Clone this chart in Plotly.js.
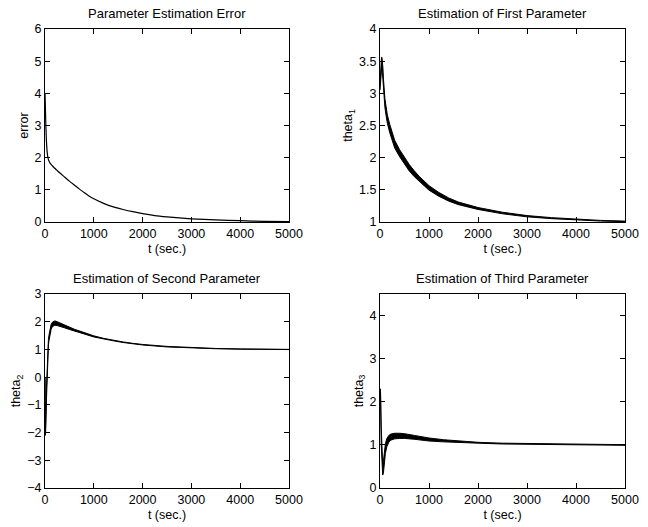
<!DOCTYPE html>
<html>
<head>
<meta charset="utf-8">
<script src="https://cdn.plot.ly/plotly-3.0.1.min.js"></script>
<style>html,body{margin:0;padding:0;background:#fff;}#chart{width:648px;height:527px;}</style>
</head>
<body>
<div id="chart"></div>
<script>
// Parameter estimation error
const tErr = [0, 5, 10, 15, 20, 30, 40, 50, 60, 75, 90, 100, 125, 150, 200, 250, 300, 400, 500, 600, 700, 800, 900, 1000, 1200, 1400, 1600, 1800, 2000, 2250, 2500, 2750, 3000, 3500, 4000, 4500, 5000];
const errVals = [4.0, 3.75, 3.45, 3.15, 2.9, 2.5, 2.25, 2.1, 2.0, 1.92, 1.87, 1.84, 1.79, 1.75, 1.67, 1.60, 1.53, 1.40, 1.27, 1.15, 1.03, 0.92, 0.81, 0.72, 0.58, 0.47, 0.39, 0.32, 0.26, 0.20, 0.16, 0.13, 0.10, 0.065, 0.04, 0.02, 0.01];

// First parameter (oscillation band: upper / lower envelope)
const tTh1 = [0, 10, 20, 30, 40, 50, 60, 70, 80, 100, 125, 150, 200, 250, 300, 400, 500, 600, 700, 800, 1000, 1200, 1400, 1600, 1800, 2000, 2500, 3000, 3500, 4000, 4500, 5000];
const th1Upper = [3.15, 3.38, 3.52, 3.56, 3.56, 3.5, 3.39, 3.23, 3.10, 2.92, 2.79, 2.665, 2.515, 2.38, 2.27, 2.125, 2.005, 1.89, 1.795, 1.71, 1.565, 1.46, 1.375, 1.31, 1.268, 1.225, 1.152, 1.10, 1.068, 1.041, 1.025, 1.014];
const th1Lower = [3.05, 3.22, 3.35, 3.36, 3.36, 3.32, 3.21, 3.07, 2.94, 2.78, 2.65, 2.535, 2.385, 2.26, 2.15, 2.015, 1.895, 1.79, 1.705, 1.63, 1.495, 1.40, 1.325, 1.27, 1.232, 1.195, 1.128, 1.08, 1.052, 1.029, 1.015, 1.006];

// Second parameter
const tTh2 = [0, 5, 10, 15, 20, 30, 40, 50, 60, 70, 80, 100, 125, 150, 175, 200, 250, 300, 400, 500, 600, 700, 800, 1000, 1200, 1400, 1600, 1800, 2000, 2500, 3000, 3500, 4000, 4500, 5000];
const th2Upper = [0, -1.0, -2.0, -1.7, -1.2, -0.4, 0.3, 0.8, 1.1, 1.35, 1.5, 1.75, 1.9, 1.98, 2.02, 2.03, 2.0, 1.96, 1.88, 1.80, 1.73, 1.67, 1.61, 1.49, 1.40, 1.33, 1.27, 1.22, 1.18, 1.11, 1.06, 1.035, 1.018, 1.008, 1.002];
const th2Lower = [0, -1.1, -2.1, -1.9, -1.5, -0.8, -0.1, 0.5, 0.9, 1.15, 1.3, 1.55, 1.72, 1.82, 1.86, 1.87, 1.86, 1.84, 1.78, 1.72, 1.66, 1.61, 1.56, 1.45, 1.37, 1.31, 1.25, 1.20, 1.16, 1.09, 1.05, 1.025, 1.01, 1.0, 0.995];

// Third parameter
const tTh3 = [0, 10, 25, 40, 55, 70, 90, 110, 140, 180, 220, 300, 400, 500, 700, 850, 1000, 1300, 1600, 2000, 2500, 3000, 3500, 4000, 4500, 5000];
const th3Upper = [2.0, 2.3, 1.4, 0.9, 0.55, 0.62, 0.88, 1.03, 1.15, 1.22, 1.25, 1.27, 1.27, 1.26, 1.22, 1.19, 1.16, 1.12, 1.09, 1.06, 1.04, 1.03, 1.02, 1.015, 1.01, 1.005];
const th3Lower = [2.0, 2.2, 1.0, 0.5, 0.3, 0.35, 0.6, 0.8, 0.96, 1.06, 1.11, 1.14, 1.15, 1.15, 1.13, 1.11, 1.09, 1.07, 1.05, 1.04, 1.02, 1.015, 1.01, 1.0, 0.995, 0.99];

const xTicks = [0, 1000, 2000, 3000, 4000, 5000];
const y1Ticks = [0, 1, 2, 3, 4, 5, 6];
const y2Ticks = [1, 1.5, 2, 2.5, 3, 3.5, 4];
const y3Ticks = [-4, -3, -2, -1, 0, 1, 2, 3];
const y3Labels = ['\u22124', '\u22123', '\u22122', '\u22121', '0', '1', '2', '3'];
const y4Ticks = [0, 1, 2, 3, 4];

function band(t, lo, hi, xa, ya) {
  return [
    {x: t, y: lo, xaxis: xa, yaxis: ya, mode: 'lines', line: {color: '#000', width: 1}, hoverinfo: 'skip'},
    {x: t, y: hi, xaxis: xa, yaxis: ya, mode: 'lines', fill: 'tonexty', fillcolor: '#000', line: {color: '#000', width: 1}, hoverinfo: 'skip'}
  ];
}

const data = [
  {x: tErr, y: errVals, xaxis: 'x', yaxis: 'y', mode: 'lines', line: {color: '#000', width: 1.2, shape: 'spline', smoothing: 0.6}}
].concat(band(tTh1, th1Lower, th1Upper, 'x2', 'y2'))
 .concat(band(tTh2, th2Lower, th2Upper, 'x3', 'y3'))
 .concat(band(tTh3, th3Lower, th3Upper, 'x4', 'y4'));

const fam = 'Liberation Sans, Arial, Helvetica, sans-serif';
const font = {family: fam, size: 12.5, color: '#000'};
const tfont = {family: fam, size: 13, color: '#000'};

function xax(domain, anchor) {
  return {domain: domain, anchor: anchor, range: [0, 5000], tickvals: xTicks, ticktext: xTicks.map(String),
    ticks: 'inside', ticklen: 5, tickcolor: '#000', showline: true, mirror: 'ticks', linecolor: '#000', linewidth: 1,
    showgrid: false, zeroline: false, tickfont: font, title: {text: 't (sec.)', font: font, standoff: 4}};
}
function yax(domain, anchor, range, vals, labels, label) {
  return {domain: domain, anchor: anchor, range: range, tickvals: vals, ticktext: labels,
    ticks: 'inside', ticklen: 5, tickcolor: '#000', showline: true, mirror: 'ticks', linecolor: '#000', linewidth: 1,
    showgrid: false, zeroline: false, tickfont: font, title: {text: label, font: font, standoff: 3}};
}

const dxL = [45/648, 289/648], dxR = [380/648, 625/648];
const dyT = [(527-222)/527, (527-29)/527], dyB = [(527-488)/527, (527-294)/527];

const layout = {
  width: 648, height: 527, margin: {l: 0, r: 0, t: 0, b: 0},
  paper_bgcolor: '#fff', plot_bgcolor: '#fff', showlegend: false, font: font,
  xaxis: xax(dxL, 'y'), yaxis: yax(dyT, 'x', [0, 6], y1Ticks, y1Ticks.map(String), 'error'),
  xaxis2: xax(dxR, 'y2'), yaxis2: yax(dyT, 'x2', [1, 4], y2Ticks, y2Ticks.map(String), 'theta<sub>1</sub>'),
  xaxis3: xax(dxL, 'y3'), yaxis3: yax(dyB, 'x3', [-4, 3], y3Ticks, y3Labels, 'theta<sub>2</sub>'),
  xaxis4: xax(dxR, 'y4'), yaxis4: yax(dyB, 'x4', [0, 4.5], y4Ticks, y4Ticks.map(String), 'theta<sub>3</sub>'),
  annotations: [
    {text: 'Parameter Estimation Error', x: (dxL[0]+dxL[1])/2, y: dyT[1], xref: 'paper', yref: 'paper', xanchor: 'center', yanchor: 'bottom', yshift: 6, showarrow: false, font: tfont},
    {text: 'Estimation of First Parameter', x: (dxR[0]+dxR[1])/2, y: dyT[1], xref: 'paper', yref: 'paper', xanchor: 'center', yanchor: 'bottom', yshift: 6, showarrow: false, font: tfont},
    {text: 'Estimation of Second Parameter', x: (dxL[0]+dxL[1])/2, y: dyB[1], xref: 'paper', yref: 'paper', xanchor: 'center', yanchor: 'bottom', yshift: 6, showarrow: false, font: tfont},
    {text: 'Estimation of Third Parameter', x: (dxR[0]+dxR[1])/2, y: dyB[1], xref: 'paper', yref: 'paper', xanchor: 'center', yanchor: 'bottom', yshift: 6, showarrow: false, font: tfont}
  ]
};

Plotly.newPlot('chart', data, layout, {displayModeBar: false, staticPlot: true});
</script>
</body>
</html>
